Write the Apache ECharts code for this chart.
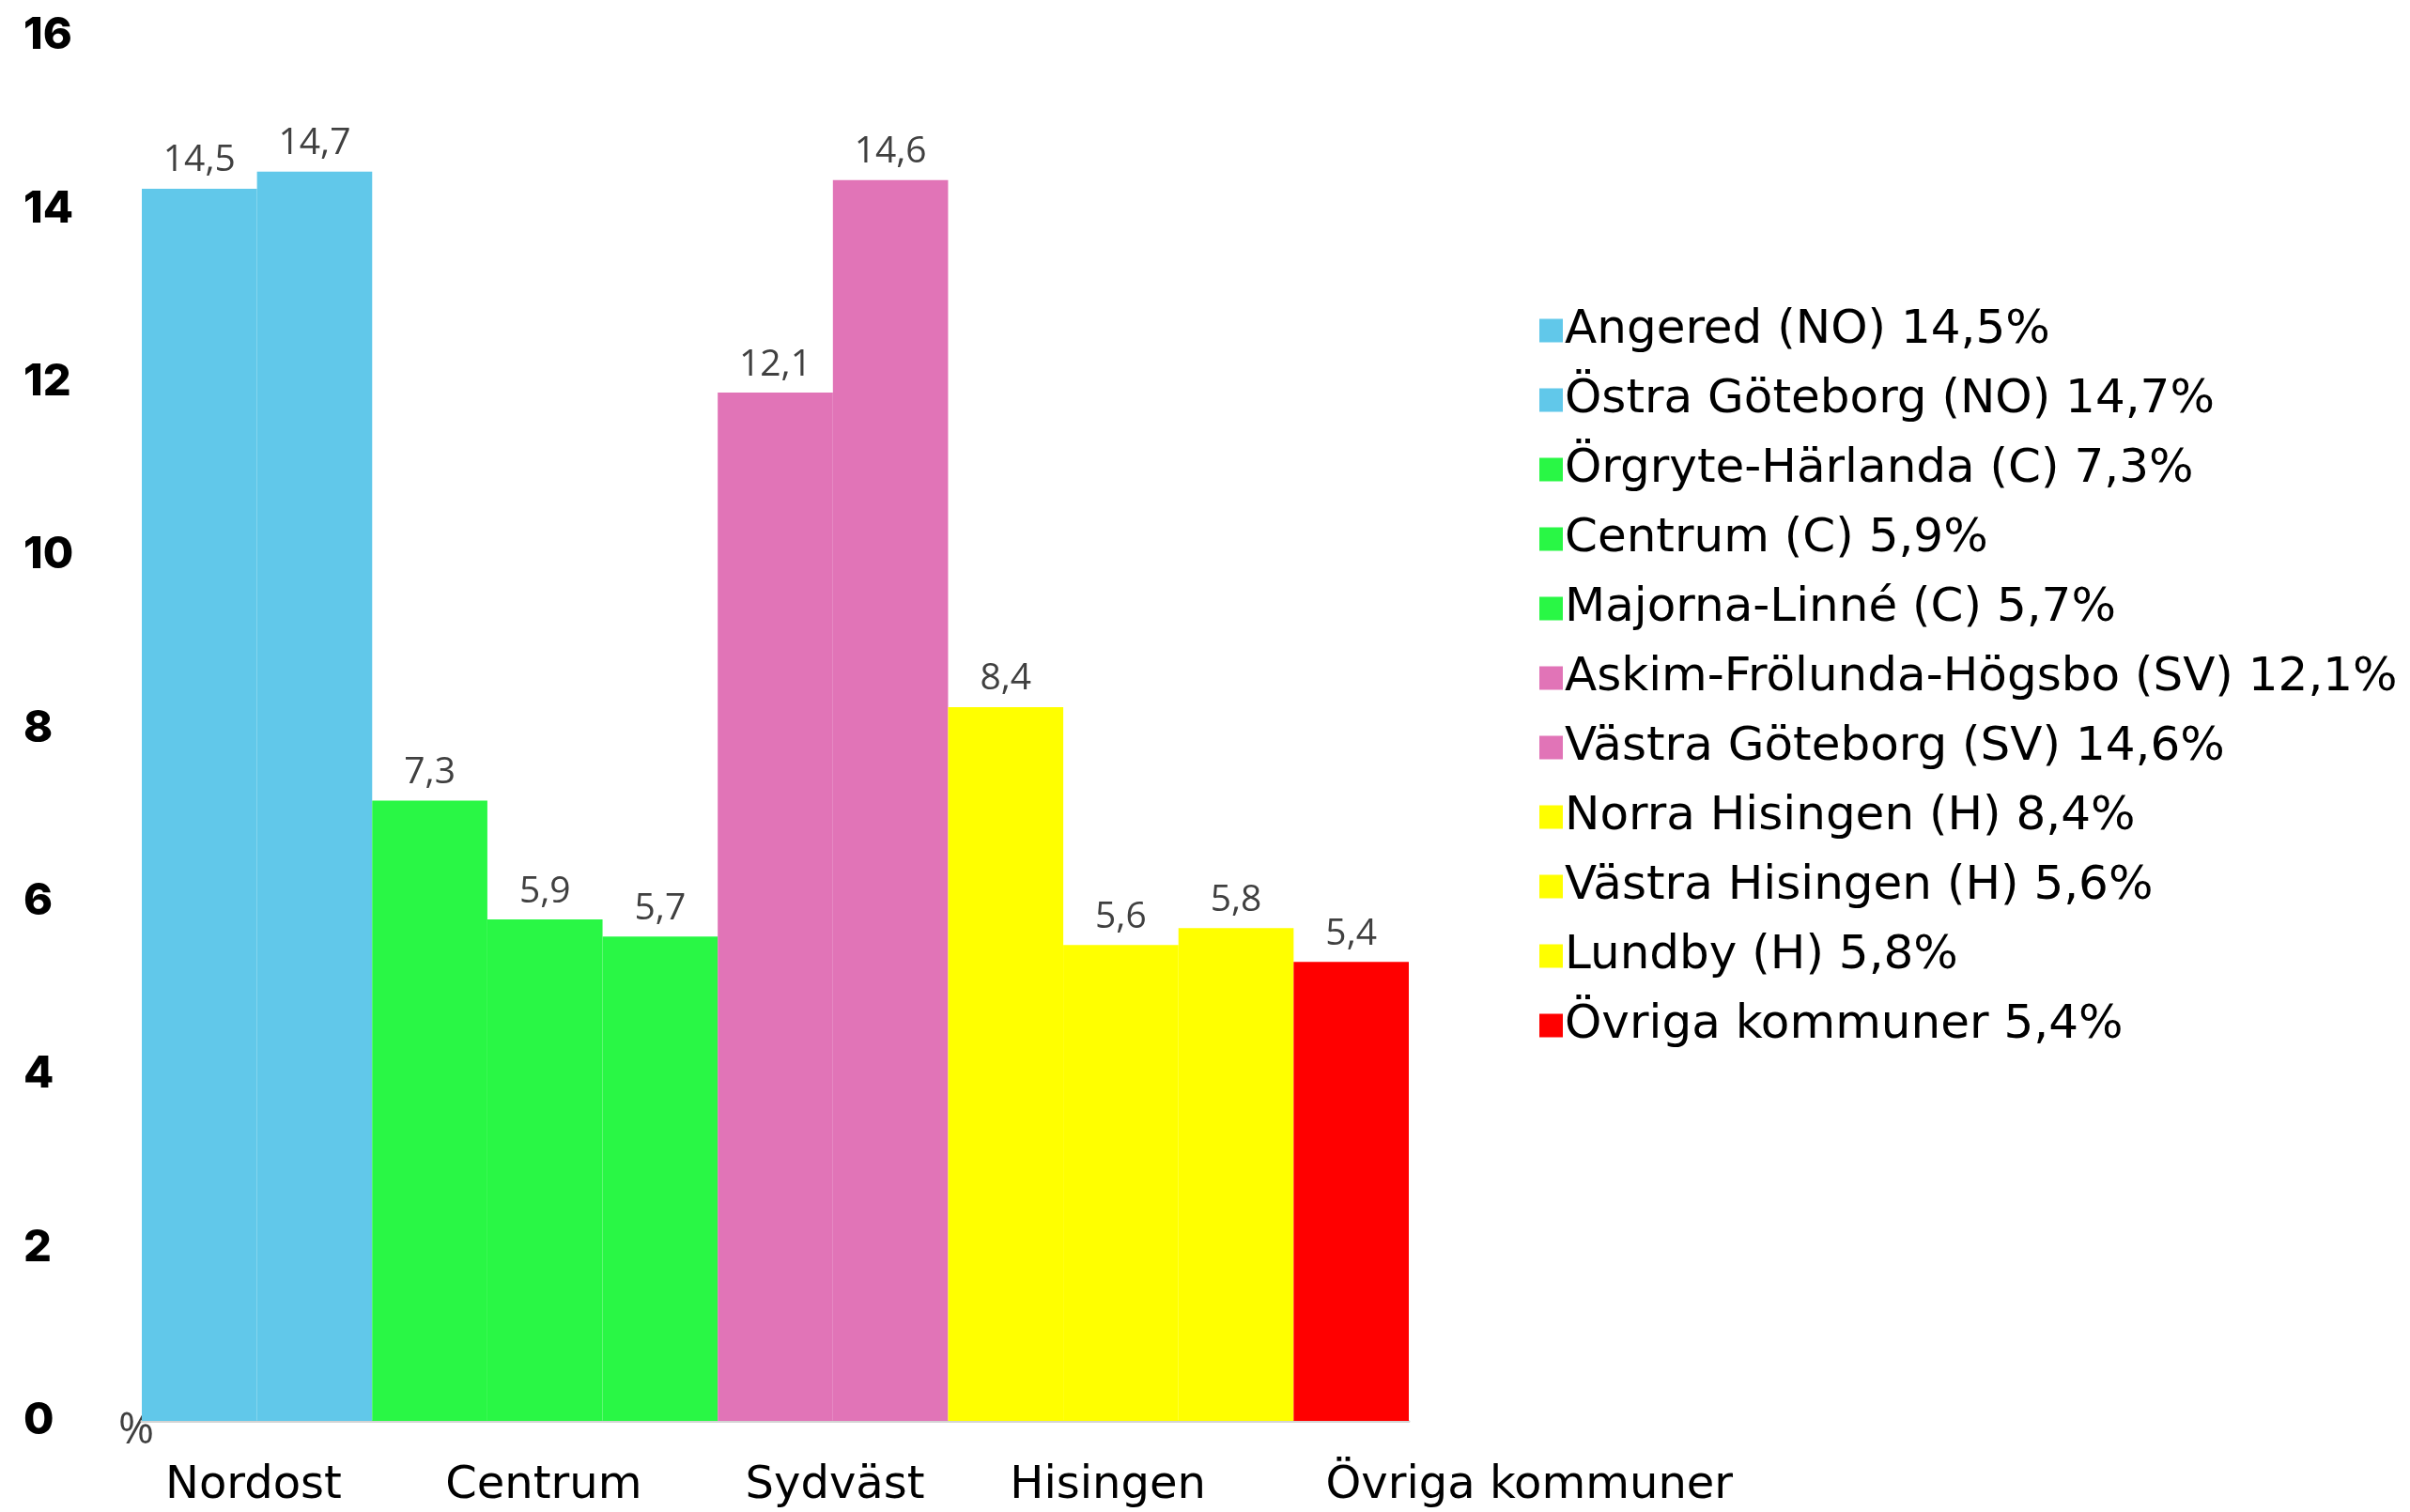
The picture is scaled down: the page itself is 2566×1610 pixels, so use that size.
<!DOCTYPE html>
<html>
<head>
<meta charset="utf-8">
<script src="https://cdn.jsdelivr.net/npm/echarts@6/dist/echarts.min.js"></script>
<style>
  html, body { margin: 0; background: #fff; }
  #main { width: 2566px; height: 1610px; }
</style>
</head>
<body>
<div id="main"></div>
<script>
// data
const districts = ['Angered', 'Östra Göteborg', 'Örgryte-Härlanda', 'Centrum', 'Majorna-Linné',
  'Askim-Frölunda-Högsbo', 'Västra Göteborg', 'Norra Hisingen', 'Västra Hisingen', 'Lundby', 'Övriga kommuner'];
const districtArea = ['NO', 'NO', 'C', 'C', 'C', 'SV', 'SV', 'H', 'H', 'H', ''];
const values = [14.5, 14.7, 7.3, 5.9, 5.7, 12.1, 14.6, 8.4, 5.6, 5.8, 5.4];
const groups = ['Nordost', 'Centrum', 'Sydväst', 'Hisingen', 'Övriga kommuner'];
const yMin = 0, yMax = 16, yStep = 2;

// styles / layout
const areaColor = { NO: '#61c8ea', C: '#29f745', SV: '#e174b7', H: '#ffff00', '': '#ff0000' };
const groupLabelAt = [0.97, 3.49, 6.02, 8.39, 12.05]; // in bar-widths from the first bar
const FONT = '"DejaVu Sans", sans-serif';

const fmt = v => v.toFixed(1).replace('.', ',');
const legendName = i => districts[i] + (districtArea[i] ? ' (' + districtArea[i] + ')' : '') + ' ' + fmt(values[i]) + '%';

const series = districts.map((d, i) => ({
  name: legendName(i),
  type: 'bar',
  stack: 'all',
  xAxisIndex: 0,
  yAxisIndex: 1,
  barCategoryGap: '0%',
  itemStyle: { color: areaColor[districtArea[i]], borderColor: areaColor[districtArea[i]], borderWidth: 2 },
  label: {
    show: true,
    position: 'top',
    distance: 10,
    formatter: p => fmt(p.value),
    fontFamily: '"Open Sans", sans-serif',
    fontSize: 39,
    color: '#404040'
  },
  data: districts.map((_, j) => (j === i ? values[i] : '-'))
}));

const chart = echarts.init(document.getElementById('main'));
chart.setOption({
  animation: false,
  grid: [
    { left: 151, right: 1066, top: 38, bottom: 97 },
    { left: 151, width: 122.6 * 13, top: 38, bottom: 97 }
  ],
  legend: {
    orient: 'vertical',
    left: 1634,
    top: 322,
    icon: 'rect',
    itemWidth: 23,
    itemHeight: 23,
    itemGap: 24,
    textStyle: { fontFamily: FONT, fontSize: 50, lineHeight: 50, color: '#000', padding: [0, 0, 0, -2] },
    data: series.map(s => s.name)
  },
  xAxis: [
    {
      type: 'category',
      gridIndex: 0,
      data: districts,
      axisLine: { lineStyle: { color: '#d4d4d4', width: 3 } },
      axisTick: { show: false },
      axisLabel: { show: false }
    },
    {
      type: 'value',
      gridIndex: 1,
      min: 0,
      max: 13,
      axisLine: { show: false },
      axisTick: { show: false },
      splitLine: { show: false },
      axisLabel: {
        customValues: groupLabelAt,
        formatter: v => groups[groupLabelAt.indexOf(v)] || '',
        fontFamily: FONT,
        fontSize: 48,
        color: '#000',
        margin: 46
      }
    }
  ],
  yAxis: [
    {
      type: 'value',
      gridIndex: 0,
      min: yMin,
      max: yMax,
      interval: yStep,
      name: '%',
      nameLocation: 'start',
      nameGap: -12,
      nameTextStyle: { fontFamily: '"Open Sans", sans-serif', fontSize: 46, color: '#404040', padding: [0, 12, 0, 0] },
      axisLine: { show: false },
      axisTick: { show: false },
      splitLine: { show: false },
      axisLabel: {
        align: 'left',
        margin: 126,
        padding: [0, 0, 10, 0],
        fontFamily: 'Inter, sans-serif',
        fontWeight: 800,
        fontSize: 47,
        color: '#000'
      }
    },
    {
      type: 'value',
      gridIndex: 0,
      min: 0,
      max: 16.3,
      show: false
    },
    {
      type: 'value',
      gridIndex: 1,
      min: 0,
      max: 1,
      show: false
    }
  ],
  series: series
});
</script>
</body>
</html>
